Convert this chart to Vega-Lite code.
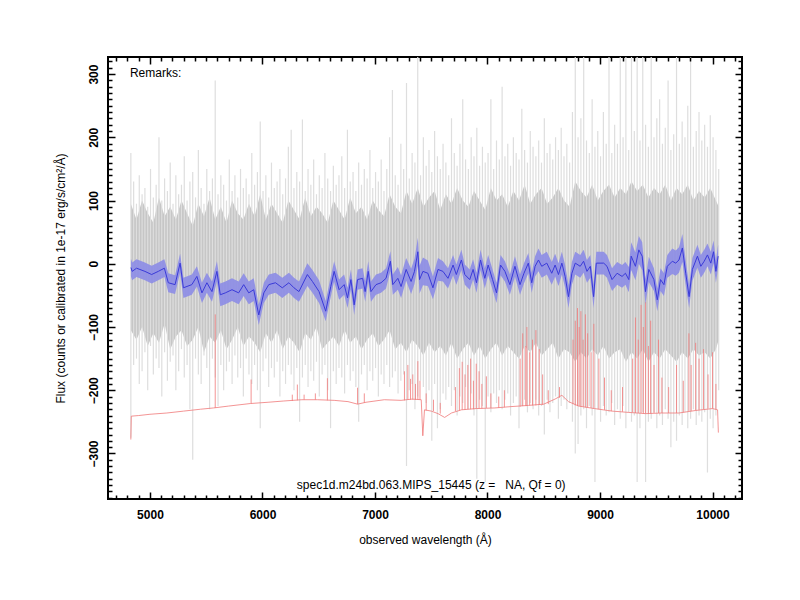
{
"$schema": "https://vega.github.io/schema/vega-lite/v6.json",
"width": 634, "height": 442,
"autosize": "none",
"padding": {"left": 108, "top": 57, "right": 58, "bottom": 101},
"background": "white",
"config": {"view": {"stroke": "black", "strokeWidth": 2}, "font": "Liberation Sans"},
"resolve": {"axis": {"x": "independent", "y": "independent"}},
"datasets": {
"spec": [
{"w":4830,"lo":-275,"hi":175},{"w":4855,"lo":-160,"hi":130},{"w":4880,"lo":-150,"hi":95},{"w":4905,"lo":-190,"hi":140},{"w":4930,"lo":-170,"hi":110},{"w":4955,"lo":-140,"hi":120},{"w":4980,"lo":-200,"hi":90},{"w":5005,"lo":-130,"hi":150},{"w":5030,"lo":-175,"hi":105},{"w":5055,"lo":-150,"hi":125},
{"w":5080,"lo":-165,"hi":200},{"w":5105,"lo":-210,"hi":100},{"w":5130,"lo":-140,"hi":135},{"w":5155,"lo":-185,"hi":115},{"w":5180,"lo":-155,"hi":160},{"w":5205,"lo":-145,"hi":95},{"w":5230,"lo":-200,"hi":140},{"w":5255,"lo":-170,"hi":110},{"w":5280,"lo":-135,"hi":125},{"w":5305,"lo":-180,"hi":170},
{"w":5330,"lo":-160,"hi":100},{"w":5355,"lo":-230,"hi":130},{"w":5380,"lo":-310,"hi":145},{"w":5405,"lo":-150,"hi":105},{"w":5430,"lo":-175,"hi":180},{"w":5455,"lo":-190,"hi":120},{"w":5480,"lo":-145,"hi":95},{"w":5505,"lo":-165,"hi":150},{"w":5530,"lo":-230,"hi":115},{"w":5555,"lo":-150,"hi":135},
{"w":5580,"lo":-180,"hi":290},{"w":5605,"lo":-225,"hi":110},{"w":5630,"lo":-160,"hi":140},{"w":5655,"lo":-200,"hi":125},{"w":5680,"lo":-170,"hi":100},{"w":5705,"lo":-155,"hi":165},{"w":5730,"lo":-190,"hi":115},{"w":5755,"lo":-145,"hi":140},{"w":5780,"lo":-180,"hi":105},{"w":5805,"lo":-165,"hi":150},
{"w":5830,"lo":-210,"hi":120},{"w":5855,"lo":-150,"hi":135},{"w":5880,"lo":-175,"hi":110},{"w":5905,"lo":-190,"hi":175},{"w":5930,"lo":-160,"hi":125},{"w":5955,"lo":-200,"hi":145},{"w":5980,"lo":-260,"hi":225},{"w":6005,"lo":-170,"hi":115},{"w":6030,"lo":-150,"hi":140},{"w":6055,"lo":-195,"hi":105},
{"w":6080,"lo":-165,"hi":160},{"w":6105,"lo":-180,"hi":120},{"w":6130,"lo":-155,"hi":130},{"w":6155,"lo":-210,"hi":150},{"w":6180,"lo":-170,"hi":110},{"w":6205,"lo":-190,"hi":135},{"w":6230,"lo":-160,"hi":185},{"w":6255,"lo":-175,"hi":212},{"w":6280,"lo":-200,"hi":120},{"w":6305,"lo":-165,"hi":145},
{"w":6330,"lo":-250,"hi":130},{"w":6355,"lo":-180,"hi":228},{"w":6380,"lo":-160,"hi":115},{"w":6405,"lo":-195,"hi":150},{"w":6430,"lo":-170,"hi":125},{"w":6455,"lo":-185,"hi":165},{"w":6480,"lo":-155,"hi":110},{"w":6505,"lo":-210,"hi":140},{"w":6530,"lo":-175,"hi":120},{"w":6555,"lo":-160,"hi":175},
{"w":6580,"lo":-200,"hi":135},{"w":6605,"lo":-260,"hi":115},{"w":6630,"lo":-170,"hi":155},{"w":6655,"lo":-190,"hi":125},{"w":6680,"lo":-165,"hi":140},{"w":6705,"lo":-180,"hi":170},{"w":6730,"lo":-205,"hi":120},{"w":6755,"lo":-160,"hi":212},{"w":6780,"lo":-185,"hi":130},{"w":6805,"lo":-170,"hi":145},
{"w":6830,"lo":-195,"hi":115},{"w":6855,"lo":-250,"hi":160},{"w":6880,"lo":-175,"hi":125},{"w":6905,"lo":-160,"hi":150},{"w":6930,"lo":-200,"hi":135},{"w":6955,"lo":-170,"hi":180},{"w":6980,"lo":-185,"hi":120},{"w":7005,"lo":-165,"hi":145},{"w":7030,"lo":-210,"hi":130},{"w":7055,"lo":-175,"hi":165},
{"w":7080,"lo":-190,"hi":115},{"w":7105,"lo":-160,"hi":150},{"w":7130,"lo":-195,"hi":200},{"w":7155,"lo":-180,"hi":275},{"w":7180,"lo":-170,"hi":140},{"w":7205,"lo":-205,"hi":125},{"w":7230,"lo":-185,"hi":190},{"w":7255,"lo":-175,"hi":150},{"w":7280,"lo":-320,"hi":286},{"w":7305,"lo":-200,"hi":135},
{"w":7330,"lo":-190,"hi":175},{"w":7355,"lo":-230,"hi":160},{"w":7380,"lo":-210,"hi":330},{"w":7405,"lo":-185,"hi":140},{"w":7430,"lo":-195,"hi":200},{"w":7455,"lo":-220,"hi":155},{"w":7480,"lo":-200,"hi":180},{"w":7505,"lo":-280,"hi":145},{"w":7530,"lo":-190,"hi":210},{"w":7555,"lo":-260,"hi":170},
{"w":7580,"lo":-230,"hi":150},{"w":7605,"lo":-205,"hi":190},{"w":7630,"lo":-215,"hi":160},{"w":7655,"lo":-195,"hi":140},{"w":7680,"lo":-225,"hi":230},{"w":7705,"lo":-200,"hi":175},{"w":7730,"lo":-240,"hi":155},{"w":7755,"lo":-210,"hi":190},{"w":7780,"lo":-220,"hi":260},{"w":7805,"lo":-195,"hi":165},
{"w":7830,"lo":-230,"hi":150},{"w":7855,"lo":-205,"hi":200},{"w":7880,"lo":-240,"hi":170},{"w":7905,"lo":-340,"hi":215},{"w":7930,"lo":-215,"hi":155},{"w":7955,"lo":-225,"hi":185},{"w":7980,"lo":-345,"hi":160},{"w":8005,"lo":-210,"hi":175},{"w":8030,"lo":-235,"hi":260},{"w":8055,"lo":-205,"hi":150},
{"w":8080,"lo":-220,"hi":195},{"w":8105,"lo":-200,"hi":165},{"w":8130,"lo":-230,"hi":280},{"w":8155,"lo":-215,"hi":170},{"w":8180,"lo":-205,"hi":190},{"w":8205,"lo":-240,"hi":155},{"w":8230,"lo":-220,"hi":200},{"w":8255,"lo":-210,"hi":175},{"w":8280,"lo":-260,"hi":165},{"w":8305,"lo":-225,"hi":245},
{"w":8330,"lo":-215,"hi":180},{"w":8355,"lo":-235,"hi":160},{"w":8380,"lo":-220,"hi":210},{"w":8405,"lo":-230,"hi":185},{"w":8430,"lo":-215,"hi":170},{"w":8455,"lo":-240,"hi":195},{"w":8480,"lo":-225,"hi":160},{"w":8505,"lo":-270,"hi":230},{"w":8530,"lo":-215,"hi":175},{"w":8555,"lo":-235,"hi":190},
{"w":8580,"lo":-220,"hi":165},{"w":8605,"lo":-210,"hi":200},{"w":8630,"lo":-245,"hi":180},{"w":8655,"lo":-225,"hi":215},{"w":8680,"lo":-215,"hi":170},{"w":8705,"lo":-230,"hi":190},{"w":8730,"lo":-220,"hi":160},{"w":8755,"lo":-250,"hi":240},{"w":8780,"lo":-300,"hi":330},{"w":8805,"lo":-285,"hi":200},
{"w":8830,"lo":-240,"hi":230},{"w":8855,"lo":-230,"hi":330},{"w":8880,"lo":-260,"hi":195},{"w":8905,"lo":-225,"hi":175},{"w":8930,"lo":-240,"hi":260},{"w":8955,"lo":-345,"hi":185},{"w":8980,"lo":-230,"hi":210},{"w":9005,"lo":-250,"hi":170},{"w":9030,"lo":-225,"hi":240},{"w":9055,"lo":-240,"hi":190},
{"w":9080,"lo":-235,"hi":330},{"w":9105,"lo":-220,"hi":175},{"w":9130,"lo":-255,"hi":220},{"w":9155,"lo":-230,"hi":190},{"w":9180,"lo":-245,"hi":330},{"w":9205,"lo":-225,"hi":200},{"w":9230,"lo":-260,"hi":330},{"w":9255,"lo":-235,"hi":180},{"w":9280,"lo":-250,"hi":330},{"w":9305,"lo":-240,"hi":210},
{"w":9330,"lo":-345,"hi":330},{"w":9355,"lo":-260,"hi":195},{"w":9380,"lo":-235,"hi":330},{"w":9405,"lo":-345,"hi":220},{"w":9430,"lo":-250,"hi":185},{"w":9455,"lo":-245,"hi":330},{"w":9480,"lo":-235,"hi":200},{"w":9505,"lo":-260,"hi":230},{"w":9530,"lo":-240,"hi":260},{"w":9555,"lo":-255,"hi":190},
{"w":9580,"lo":-230,"hi":215},{"w":9605,"lo":-245,"hi":290},{"w":9630,"lo":-290,"hi":180},{"w":9655,"lo":-250,"hi":205},{"w":9680,"lo":-280,"hi":330},{"w":9705,"lo":-240,"hi":190},{"w":9730,"lo":-255,"hi":225},{"w":9755,"lo":-235,"hi":200},{"w":9780,"lo":-260,"hi":250},{"w":9805,"lo":-245,"hi":330},
{"w":9830,"lo":-230,"hi":185},{"w":9855,"lo":-255,"hi":210},{"w":9880,"lo":-240,"hi":240},{"w":9905,"lo":-250,"hi":195},{"w":9930,"lo":-235,"hi":220},{"w":9955,"lo":-330,"hi":185},{"w":9980,"lo":-245,"hi":235},{"w":10005,"lo":-260,"hi":200},{"w":10030,"lo":-240,"hi":180},{"w":10055,"lo":-200,"hi":150}
],
"core": [
{"w":4830,"lo":-105,"hi":95},{"w":4880,"lo":-120,"hi":70},{"w":4930,"lo":-100,"hi":100},{"w":4980,"lo":-130,"hi":80},{"w":5030,"lo":-110,"hi":65},{"w":5080,"lo":-125,"hi":105},{"w":5130,"lo":-95,"hi":75},{"w":5180,"lo":-135,"hi":90},{"w":5230,"lo":-115,"hi":70},{"w":5280,"lo":-105,"hi":100},
{"w":5330,"lo":-130,"hi":80},{"w":5380,"lo":-120,"hi":60},{"w":5430,"lo":-100,"hi":95},{"w":5480,"lo":-140,"hi":75},{"w":5530,"lo":-115,"hi":105},{"w":5580,"lo":-125,"hi":70},{"w":5630,"lo":-105,"hi":90},{"w":5680,"lo":-135,"hi":65},{"w":5730,"lo":-120,"hi":100},{"w":5780,"lo":-100,"hi":80},
{"w":5830,"lo":-130,"hi":70},{"w":5880,"lo":-115,"hi":95},{"w":5930,"lo":-125,"hi":75},{"w":5980,"lo":-140,"hi":110},{"w":6030,"lo":-110,"hi":70},{"w":6080,"lo":-125,"hi":95},{"w":6130,"lo":-105,"hi":80},{"w":6180,"lo":-135,"hi":65},{"w":6230,"lo":-115,"hi":100},{"w":6280,"lo":-125,"hi":85},
{"w":6330,"lo":-140,"hi":70},{"w":6380,"lo":-110,"hi":105},{"w":6430,"lo":-120,"hi":75},{"w":6480,"lo":-100,"hi":90},{"w":6530,"lo":-135,"hi":80},{"w":6580,"lo":-125,"hi":65},{"w":6630,"lo":-115,"hi":100},{"w":6680,"lo":-130,"hi":85},{"w":6730,"lo":-105,"hi":70},{"w":6780,"lo":-125,"hi":105},
{"w":6830,"lo":-115,"hi":80},{"w":6880,"lo":-135,"hi":90},{"w":6930,"lo":-120,"hi":70},{"w":6980,"lo":-110,"hi":100},{"w":7030,"lo":-130,"hi":85},{"w":7080,"lo":-120,"hi":75},{"w":7130,"lo":-105,"hi":110},{"w":7180,"lo":-135,"hi":90},{"w":7230,"lo":-125,"hi":80},{"w":7280,"lo":-140,"hi":115},
{"w":7330,"lo":-120,"hi":95},{"w":7380,"lo":-130,"hi":120},{"w":7430,"lo":-145,"hi":90},{"w":7480,"lo":-125,"hi":105},{"w":7530,"lo":-140,"hi":115},{"w":7580,"lo":-130,"hi":85},{"w":7630,"lo":-145,"hi":110},{"w":7680,"lo":-125,"hi":95},{"w":7730,"lo":-150,"hi":120},{"w":7780,"lo":-135,"hi":100},
{"w":7830,"lo":-125,"hi":90},{"w":7880,"lo":-145,"hi":115},{"w":7930,"lo":-130,"hi":100},{"w":7980,"lo":-150,"hi":85},{"w":8030,"lo":-135,"hi":120},{"w":8080,"lo":-125,"hi":100},{"w":8130,"lo":-145,"hi":110},{"w":8180,"lo":-130,"hi":90},{"w":8230,"lo":-140,"hi":115},{"w":8280,"lo":-150,"hi":100},
{"w":8330,"lo":-130,"hi":125},{"w":8380,"lo":-140,"hi":95},{"w":8430,"lo":-125,"hi":110},{"w":8480,"lo":-145,"hi":120},{"w":8530,"lo":-135,"hi":95},{"w":8580,"lo":-125,"hi":105},{"w":8630,"lo":-150,"hi":120},{"w":8680,"lo":-135,"hi":100},{"w":8730,"lo":-140,"hi":90},{"w":8780,"lo":-155,"hi":130},
{"w":8830,"lo":-140,"hi":115},{"w":8880,"lo":-150,"hi":105},{"w":8930,"lo":-135,"hi":125},{"w":8980,"lo":-145,"hi":100},{"w":9030,"lo":-130,"hi":115},{"w":9080,"lo":-150,"hi":125},{"w":9130,"lo":-140,"hi":105},{"w":9180,"lo":-135,"hi":120},{"w":9230,"lo":-155,"hi":110},{"w":9280,"lo":-140,"hi":130},
{"w":9330,"lo":-150,"hi":115},{"w":9380,"lo":-135,"hi":125},{"w":9430,"lo":-155,"hi":105},{"w":9480,"lo":-140,"hi":120},{"w":9530,"lo":-150,"hi":110},{"w":9580,"lo":-135,"hi":125},{"w":9630,"lo":-145,"hi":100},{"w":9680,"lo":-155,"hi":120},{"w":9730,"lo":-140,"hi":110},{"w":9780,"lo":-150,"hi":125},
{"w":9830,"lo":-135,"hi":100},{"w":9880,"lo":-145,"hi":115},{"w":9930,"lo":-140,"hi":105},{"w":9980,"lo":-150,"hi":120},{"w":10030,"lo":-135,"hi":100},{"w":10055,"lo":-120,"hi":90}
],
"blue": [
{"w":4831,"f":-6,"lo":-20,"hi":8},{"w":4842,"f":-12,"lo":-26,"hi":2},{"w":4881,"f":-7,"lo":-21,"hi":7},{"w":4955,"f":-12,"lo":-26,"hi":2},{"w":5015,"f":-17,"lo":-31,"hi":-3},{"w":5074,"f":-12,"lo":-26,"hi":2},{"w":5128,"f":-7,"lo":-21,"hi":7},{"w":5163,"f":-30,"lo":-45,"hi":-15},{"w":5223,"f":-33,"lo":-48,"hi":-18},{"w":5268,"f":1,"lo":-14,"hi":16},
{"w":5297,"f":-38,"lo":-54,"hi":-22},{"w":5372,"f":-33,"lo":-49,"hi":-17},{"w":5417,"f":-20,"lo":-36,"hi":-4},{"w":5462,"f":-46,"lo":-62,"hi":-30},{"w":5506,"f":-30,"lo":-46,"hi":-14},{"w":5551,"f":-44,"lo":-60,"hi":-28},{"w":5595,"f":-12,"lo":-28,"hi":4},{"w":5625,"f":-49,"lo":-67,"hi":-31},{"w":5670,"f":-46,"lo":-64,"hi":-28},{"w":5729,"f":-41,"lo":-59,"hi":-23},
{"w":5788,"f":-46,"lo":-64,"hi":-28},{"w":5833,"f":-33,"lo":-51,"hi":-15},{"w":5878,"f":-46,"lo":-64,"hi":-28},{"w":5922,"f":-41,"lo":-59,"hi":-23},{"w":5967,"f":-81,"lo":-97,"hi":-65},{"w":6012,"f":-46,"lo":-62,"hi":-30},{"w":6056,"f":-33,"lo":-49,"hi":-17},{"w":6116,"f":-30,"lo":-46,"hi":-14},{"w":6176,"f":-38,"lo":-54,"hi":-22},{"w":6235,"f":-30,"lo":-46,"hi":-14},
{"w":6280,"f":-38,"lo":-54,"hi":-22},{"w":6324,"f":-44,"lo":-60,"hi":-28},{"w":6399,"f":-17,"lo":-35,"hi":1},{"w":6444,"f":-28,"lo":-46,"hi":-10},{"w":6503,"f":-44,"lo":-62,"hi":-26},{"w":6562,"f":-75,"lo":-91,"hi":-59},{"w":6607,"f":-36,"lo":-52,"hi":-20},{"w":6637,"f":-12,"lo":-28,"hi":4},{"w":6681,"f":-41,"lo":-57,"hi":-25},{"w":6726,"f":-33,"lo":-49,"hi":-17},
{"w":6756,"f":-54,"lo":-70,"hi":-38},{"w":6786,"f":-25,"lo":-41,"hi":-9},{"w":6815,"f":-65,"lo":-81,"hi":-49},{"w":6845,"f":-25,"lo":-41,"hi":-9},{"w":6890,"f":-23,"lo":-39,"hi":-7},{"w":6913,"f":-44,"lo":-60,"hi":-28},{"w":6940,"f":-12,"lo":-28,"hi":4},{"w":6964,"f":-44,"lo":-60,"hi":-28},{"w":7009,"f":-33,"lo":-49,"hi":-17},{"w":7054,"f":-30,"lo":-46,"hi":-14},
{"w":7098,"f":-23,"lo":-39,"hi":-7},{"w":7137,"f":4,"lo":-12,"hi":20},{"w":7158,"f":-33,"lo":-49,"hi":-17},{"w":7203,"f":-23,"lo":-41,"hi":-5},{"w":7232,"f":-36,"lo":-54,"hi":-18},{"w":7277,"f":-9,"lo":-27,"hi":9},{"w":7321,"f":-28,"lo":-48,"hi":-8},{"w":7351,"f":-12,"lo":-32,"hi":8},{"w":7381,"f":19,"lo":-3,"hi":41},{"w":7396,"f":-25,"lo":-47,"hi":-3},
{"w":7426,"f":-12,"lo":-34,"hi":10},{"w":7470,"f":-15,"lo":-35,"hi":5},{"w":7515,"f":-38,"lo":-56,"hi":-20},{"w":7560,"f":-9,"lo":-27,"hi":9},{"w":7604,"f":-12,"lo":-28,"hi":4},{"w":7649,"f":-23,"lo":-39,"hi":-7},{"w":7694,"f":-2,"lo":-18,"hi":14},{"w":7723,"f":-17,"lo":-33,"hi":-1},{"w":7768,"f":6,"lo":-10,"hi":22},{"w":7798,"f":-17,"lo":-33,"hi":-1},
{"w":7842,"f":-25,"lo":-41,"hi":-9},{"w":7872,"f":-9,"lo":-25,"hi":7},{"w":7902,"f":-30,"lo":-46,"hi":-14},{"w":7938,"f":6,"lo":-10,"hi":22},{"w":7976,"f":-23,"lo":-39,"hi":-7},{"w":8006,"f":-2,"lo":-18,"hi":14},{"w":8045,"f":-25,"lo":-41,"hi":-9},{"w":8080,"f":-46,"lo":-62,"hi":-30},{"w":8116,"f":-2,"lo":-18,"hi":14},{"w":8155,"f":-12,"lo":-28,"hi":4},
{"w":8199,"f":-33,"lo":-49,"hi":-17},{"w":8244,"f":-4,"lo":-20,"hi":12},{"w":8289,"f":-33,"lo":-49,"hi":-17},{"w":8324,"f":-15,"lo":-31,"hi":1},{"w":8363,"f":1,"lo":-15,"hi":17},{"w":8393,"f":-30,"lo":-46,"hi":-14},{"w":8423,"f":-4,"lo":-20,"hi":12},{"w":8453,"f":6,"lo":-12,"hi":24},{"w":8482,"f":-4,"lo":-22,"hi":14},{"w":8527,"f":1,"lo":-17,"hi":19},
{"w":8571,"f":-15,"lo":-33,"hi":3},{"w":8601,"f":-2,"lo":-20,"hi":16},{"w":8631,"f":-17,"lo":-35,"hi":1},{"w":8661,"f":1,"lo":-17,"hi":19},{"w":8690,"f":-20,"lo":-38,"hi":-2},{"w":8720,"f":-52,"lo":-70,"hi":-34},{"w":8750,"f":-15,"lo":-33,"hi":3},{"w":8780,"f":1,"lo":-17,"hi":19},{"w":8824,"f":-4,"lo":-22,"hi":14},{"w":8854,"f":4,"lo":-14,"hi":22},
{"w":8884,"f":-12,"lo":-30,"hi":6},{"w":8914,"f":-4,"lo":-22,"hi":14},{"w":8943,"f":-52,"lo":-70,"hi":-34},{"w":8967,"f":1,"lo":-17,"hi":19},{"w":9033,"f":1,"lo":-17,"hi":19},{"w":9062,"f":-4,"lo":-22,"hi":14},{"w":9107,"f":-25,"lo":-43,"hi":-7},{"w":9152,"f":-15,"lo":-33,"hi":3},{"w":9196,"f":-20,"lo":-38,"hi":-2},{"w":9226,"f":-15,"lo":-33,"hi":3},
{"w":9256,"f":-25,"lo":-45,"hi":-5},{"w":9277,"f":12,"lo":-10,"hi":34},{"w":9315,"f":-4,"lo":-26,"hi":18},{"w":9345,"f":22,"lo":0,"hi":44},{"w":9375,"f":12,"lo":-10,"hi":34},{"w":9404,"f":-44,"lo":-64,"hi":-24},{"w":9434,"f":-9,"lo":-29,"hi":11},{"w":9479,"f":-25,"lo":-43,"hi":-7},{"w":9509,"f":-57,"lo":-75,"hi":-39},{"w":9538,"f":-25,"lo":-43,"hi":-7},
{"w":9568,"f":-33,"lo":-51,"hi":-15},{"w":9598,"f":-4,"lo":-22,"hi":14},{"w":9643,"f":4,"lo":-16,"hi":24},{"w":9673,"f":1,"lo":-19,"hi":21},{"w":9702,"f":6,"lo":-14,"hi":26},{"w":9732,"f":25,"lo":3,"hi":47},{"w":9762,"f":-15,"lo":-35,"hi":5},{"w":9792,"f":-52,"lo":-70,"hi":-34},{"w":9821,"f":-9,"lo":-27,"hi":9},{"w":9866,"f":12,"lo":-6,"hi":30},
{"w":9896,"f":-4,"lo":-22,"hi":14},{"w":9926,"f":4,"lo":-14,"hi":22},{"w":9955,"f":14,"lo":-4,"hi":32},{"w":9985,"f":1,"lo":-17,"hi":19},{"w":10009,"f":19,"lo":1,"hi":37},{"w":10030,"f":-12,"lo":-30,"hi":6},{"w":10050,"f":12,"lo":-6,"hi":30}
],
"sky": [
{"w":4830,"f":-278},{"w":4834,"f":-241},{"w":4900,"f":-240},{"w":5000,"f":-238},{"w":5150,"f":-236},{"w":5300,"f":-233},{"w":5450,"f":-230},{"w":5565,"f":-228},{"w":5700,"f":-225},{"w":5893,"f":-221},{"w":6050,"f":-219},{"w":6190,"f":-217},{"w":6350,"f":-215},{"w":6488,"f":-215},{"w":6637,"f":-216},{"w":6760,"f":-218},{"w":6845,"f":-222},{"w":6920,"f":-219},{"w":7083,"f":-215},{"w":7232,"f":-216},{"w":7330,"f":-214},{"w":7411,"f":-215},{"w":7425,"f":-272},{"w":7440,"f":-231},{"w":7500,"f":-233},{"w":7560,"f":-237},{"w":7619,"f":-243},{"w":7680,"f":-236},{"w":7768,"f":-231},{"w":7900,"f":-229},{"w":8065,"f":-228},{"w":8200,"f":-226},{"w":8363,"f":-224},{"w":8500,"f":-222},{"w":8600,"f":-214},{"w":8661,"f":-208},{"w":8720,"f":-218},{"w":8810,"f":-225},{"w":8950,"f":-229},{"w":9107,"f":-233},{"w":9250,"f":-235},{"w":9405,"f":-237},{"w":9550,"f":-236},{"w":9702,"f":-236},{"w":9850,"f":-232},{"w":10000,"f":-229},{"w":10045,"f":-231},{"w":10052,"f":-267}
],
"skylines": [
{"w":5580,"b":-228,"p":-80},{"w":5899,"b":-221,"p":-183},{"w":6265,"b":-217,"p":-207},{"w":6310,"b":-216,"p":-191},{"w":6370,"b":-215,"p":-207},{"w":6470,"b":-215,"p":-205},{"w":6577,"b":-216,"p":-181},{"w":6845,"b":-222,"p":-196},{"w":6905,"b":-220,"p":-205},{"w":7262,"b":-216,"p":-170},{"w":7292,"b":-215,"p":-160},{"w":7316,"b":-215,"p":-182},{"w":7336,"b":-215,"p":-175},{"w":7360,"b":-215,"p":-190},{"w":7381,"b":-215,"p":-154},{"w":7400,"b":-215,"p":-185},{"w":7455,"b":-232,"p":-205},{"w":7520,"b":-233,"p":-215},{"w":7580,"b":-237,"p":-220},
{"w":7715,"b":-233,"p":-195},{"w":7750,"b":-232,"p":-165},{"w":7775,"b":-231,"p":-155},{"w":7800,"b":-231,"p":-175},{"w":7825,"b":-230,"p":-160},{"w":7850,"b":-230,"p":-150},{"w":7875,"b":-230,"p":-185},{"w":7900,"b":-229,"p":-158},{"w":7925,"b":-229,"p":-170},{"w":7950,"b":-229,"p":-190},{"w":7990,"b":-228,"p":-178},{"w":8030,"b":-228,"p":-205},{"w":8100,"b":-228,"p":-210},{"w":8150,"b":-227,"p":-200},
{"w":8290,"b":-226,"p":-150},{"w":8313,"b":-225,"p":-110},{"w":8340,"b":-225,"p":-130},{"w":8350,"b":-225,"p":-100},{"w":8375,"b":-224,"p":-140},{"w":8400,"b":-224,"p":-120},{"w":8430,"b":-224,"p":-105},{"w":8460,"b":-223,"p":-135},{"w":8490,"b":-223,"p":-175},{"w":8540,"b":-222,"p":-200},{"w":8640,"b":-212,"p":-195},
{"w":8760,"b":-222,"p":-120},{"w":8780,"b":-224,"p":-90},{"w":8800,"b":-225,"p":-70},{"w":8815,"b":-225,"p":-100},{"w":8830,"b":-226,"p":-75},{"w":8850,"b":-226,"p":-120},{"w":8870,"b":-227,"p":-80},{"w":8890,"b":-227,"p":-110},{"w":8920,"b":-228,"p":-140},{"w":8945,"b":-229,"p":-95},{"w":8990,"b":-230,"p":-150},{"w":9040,"b":-231,"p":-180},{"w":9100,"b":-233,"p":-200},{"w":9200,"b":-234,"p":-195},
{"w":9290,"b":-235,"p":-150},{"w":9315,"b":-236,"p":-85},{"w":9340,"b":-236,"p":-120},{"w":9365,"b":-236,"p":-65},{"w":9385,"b":-237,"p":-100},{"w":9405,"b":-237,"p":-60},{"w":9430,"b":-237,"p":-130},{"w":9450,"b":-237,"p":-90},{"w":9480,"b":-236,"p":-160},{"w":9520,"b":-236,"p":-120},{"w":9550,"b":-236,"p":-180},{"w":9610,"b":-236,"p":-195},{"w":9680,"b":-236,"p":-160},{"w":9740,"b":-235,"p":-185},{"w":9790,"b":-233,"p":-110},{"w":9810,"b":-233,"p":-160},{"w":9850,"b":-232,"p":-125},{"w":9880,"b":-231,"p":-150},{"w":9920,"b":-230,"p":-135},{"w":9960,"b":-229,"p":-175},{"w":10000,"b":-229,"p":-140},{"w":10030,"b":-230,"p":-190}
],
"notes": [
{"w":4822,"f":302,"label":"Remarks:"},
{"w":6305,"f":-350,"label":"spec1d.m24bd.063.MIPS_15445 (z = \u00a0 NA, Qf = 0)"}
]
},
"layer": [
{
"data": {"name": "core"},
"mark": {"type": "area", "color": "#c6c6c6", "opacity": 1},
"encoding": {
"x": {"field": "w", "type": "quantitative", "scale": {"domain": [4627, 10262], "nice": false, "zero": false},
"axis": {"orient": "bottom", "values": [5000,6000,7000,8000,9000,10000], "format": "d", "ticks": false, "domain": false, "grid": false, "labelFont": "Liberation Sans", "labelFontSize": 12, "labelFontWeight": "bold", "labelColor": "black", "labelPadding": 10, "title": "observed wavelength (Å)", "titleFont": "Liberation Sans", "titleFontSize": 12, "titleFontWeight": "normal", "titleColor": "black", "titlePadding": 14}},
"y": {"field": "lo", "type": "quantitative", "scale": {"domain": [-372, 327], "nice": false, "zero": false},
"axis": {"orient": "left", "values": [-300,-200,-100,0,100,200,300], "format": "d", "ticks": false, "domain": false, "grid": false, "labelAngle": -90, "labelAlign": "center", "labelBaseline": "bottom", "labelFont": "Liberation Sans", "labelFontSize": 12, "labelFontWeight": "bold", "labelColor": "black", "labelPadding": 8, "title": "Flux (counts or calibrated in 1e-17 erg/s/cm²/Å)", "titleFont": "Liberation Sans", "titleFontSize": 12, "titleFontWeight": "normal", "titleColor": "black", "titlePadding": 20}},
"y2": {"field": "hi"}
}
},
{
"data": {"name": "spec"},
"mark": {"type": "rule", "color": "#dedede", "strokeWidth": 1.2, "clip": true},
"encoding": {
"x": {"field": "w", "type": "quantitative",
"axis": {"orient": "bottom", "values": [4700,4800,4900,5000,5100,5200,5300,5400,5500,5600,5700,5800,5900,6000,6100,6200,6300,6400,6500,6600,6700,6800,6900,7000,7100,7200,7300,7400,7500,7600,7700,7800,7900,8000,8100,8200,8300,8400,8500,8600,8700,8800,8900,9000,9100,9200,9300,9400,9500,9600,9700,9800,9900,10000,10100,10200], "labels": false, "domain": false, "grid": false, "title": null, "zindex": 2, "tickColor": "black", "tickWidth": 1.5, "tickSize": {"condition": {"test": "datum.value % 1000 === 0", "value": -7}, "value": -4}}},
"y": {"field": "lo", "type": "quantitative",
"axis": {"orient": "left", "values": [-370,-360,-350,-340,-330,-320,-310,-300,-290,-280,-270,-260,-250,-240,-230,-220,-210,-200,-190,-180,-170,-160,-150,-140,-130,-120,-110,-100,-90,-80,-70,-60,-50,-40,-30,-20,-10,0,10,20,30,40,50,60,70,80,90,100,110,120,130,140,150,160,170,180,190,200,210,220,230,240,250,260,270,280,290,300,310,320], "labels": false, "domain": false, "grid": false, "title": null, "zindex": 2, "tickColor": "black", "tickWidth": 1.5, "tickSize": {"condition": {"test": "datum.value % 100 === 0", "value": -7}, "value": -4}}},
"y2": {"field": "hi"}
}
},
{
"data": {"name": "sky"},
"mark": {"type": "line", "color": "#f07878", "strokeWidth": 0.8},
"encoding": {
"x": {"field": "w", "type": "quantitative",
"axis": {"orient": "top", "values": [4700,4800,4900,5000,5100,5200,5300,5400,5500,5600,5700,5800,5900,6000,6100,6200,6300,6400,6500,6600,6700,6800,6900,7000,7100,7200,7300,7400,7500,7600,7700,7800,7900,8000,8100,8200,8300,8400,8500,8600,8700,8800,8900,9000,9100,9200,9300,9400,9500,9600,9700,9800,9900,10000,10100,10200], "labels": false, "domain": false, "grid": false, "title": null, "zindex": 2, "tickColor": "black", "tickWidth": 1.5, "tickSize": {"condition": {"test": "datum.value % 1000 === 0", "value": -7}, "value": -4}}},
"y": {"field": "f", "type": "quantitative",
"axis": {"orient": "right", "values": [-370,-360,-350,-340,-330,-320,-310,-300,-290,-280,-270,-260,-250,-240,-230,-220,-210,-200,-190,-180,-170,-160,-150,-140,-130,-120,-110,-100,-90,-80,-70,-60,-50,-40,-30,-20,-10,0,10,20,30,40,50,60,70,80,90,100,110,120,130,140,150,160,170,180,190,200,210,220,230,240,250,260,270,280,290,300,310,320], "labels": false, "domain": false, "grid": false, "title": null, "zindex": 2, "tickColor": "black", "tickWidth": 1.5, "tickSize": {"condition": {"test": "datum.value % 100 === 0", "value": -7}, "value": -4}}}
}
},
{
"data": {"name": "skylines"},
"mark": {"type": "rule", "color": "#f07878", "strokeWidth": 0.8},
"encoding": {
"x": {"field": "w", "type": "quantitative", "axis": null},
"y": {"field": "b", "type": "quantitative", "axis": null},
"y2": {"field": "p"}
}
},
{
"data": {"name": "blue"},
"mark": {"type": "area", "color": "#8c8ce6", "opacity": 0.9},
"encoding": {
"x": {"field": "w", "type": "quantitative", "axis": null},
"y": {"field": "lo", "type": "quantitative", "axis": null},
"y2": {"field": "hi"}
}
},
{
"data": {"name": "blue"},
"mark": {"type": "line", "color": "#3a3ad8", "strokeWidth": 1},
"encoding": {
"x": {"field": "w", "type": "quantitative", "axis": null},
"y": {"field": "f", "type": "quantitative", "axis": null}
}
},
{
"data": {"name": "notes"},
"mark": {"type": "text", "align": "left", "baseline": "middle", "font": "Liberation Sans", "fontSize": 12, "color": "black"},
"encoding": {
"x": {"field": "w", "type": "quantitative", "axis": null},
"y": {"field": "f", "type": "quantitative", "axis": null},
"text": {"field": "label"}
}
}
]
}
